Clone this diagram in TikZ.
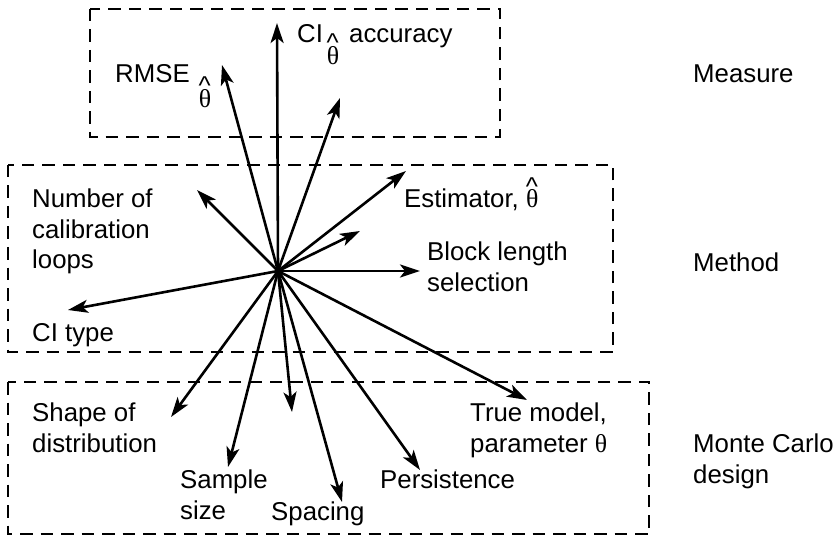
\documentclass[tikz,border=0pt]{standalone}
\usepackage{fontspec}
\setmainfont{Liberation Sans}
\newfontfamily\thfont{Liberation Serif}
\newcommand\hth{{\thfont θ}\llap{\makebox[0.5em][c]{\raisebox{13pt}{\textasciicircum}}}}
\usetikzlibrary{arrows.meta}
\begin{document}
\begin{tikzpicture}[x=1pt,y=-1pt,
  lbl/.style={anchor=base west,inner sep=0pt,align=left,font=\fontsize{25.8}{30.5}\selectfont},
  th/.style={anchor=base,inner sep=0pt,font=\fontsize{25.8}{30}\selectfont},
  grp/.style={draw,line width=2.8pt,dash pattern=on 12.5pt off 8pt},
  arr/.style={line width=2.6pt,-{Stealth[length=20pt,width=13pt,inset=5pt]}}]
\useasboundingbox (0,0) rectangle (838,540);
% group boxes
\draw[grp] (90,9) rectangle (500,137);
\draw[grp] (8,165) rectangle (613,352);
\draw[grp] (8,382) rectangle (649,534);
% hub and tips
\coordinate (c) at (278,271);
\coordinate (tUp) at (277,23);
\coordinate (tRmse) at (222,65);
\coordinate (tCi) at (340,98);
\coordinate (tNum) at (197,190);
\coordinate (tEst) at (406,171);
\coordinate (tShort) at (360,231);
\coordinate (tBlock) at (420,271);
\coordinate (tCitype) at (68,310);
\coordinate (tShape) at (171,417);
\coordinate (tSample) at (228,467);
\coordinate (tDown) at (292,412);
\coordinate (tSpacing) at (342,502);
\coordinate (tPers) at (420,470);
\coordinate (tTrue) at (527,400);
\foreach \t in {tUp,tRmse,tCi,tNum,tEst,tShort,tBlock,tCitype,tShape,tSample,tDown,tSpacing,tPers,tTrue}
  \draw[arr] (c) -- (\t);
% labels: Measure box
\node[lbl] (rmse) at (115,83) {RMSE};
\node[th] (rmseth) at (205,108) {\hth};
\node[lbl] (ci) at (297,43) {CI};
\node[th] (cith) at (333,65) {\hth};
\node[lbl] (acc) at (349,43) {accuracy};
% Method box
\node[lbl] (num) at (32,269) {Number of\\calibration\\loops};
\node[lbl] (citype) at (32,341) {CI type};
\node[lbl] (est) at (404,208) {Estimator, \hth};
\node[lbl] (block) at (427,291) {Block length\\selection};
% Monte Carlo box
\node[lbl] (shape) at (32,452) {Shape of\\distribution};
\node[lbl] (sample) at (180,519) {Sample\\size};
\node[lbl] (spacing) at (271,520) {Spacing};
\node[lbl] (pers) at (380,488) {Persistence};
\node[lbl] (true) at (470,452) {True model,\\parameter {\thfont θ}};
% side titles
\node[lbl] (measure) at (693,83) {Measure};
\node[lbl] (method) at (693,271) {Method};
\node[lbl] (mc) at (693,483) {Monte Carlo\\design};
\end{tikzpicture}
\end{document}
